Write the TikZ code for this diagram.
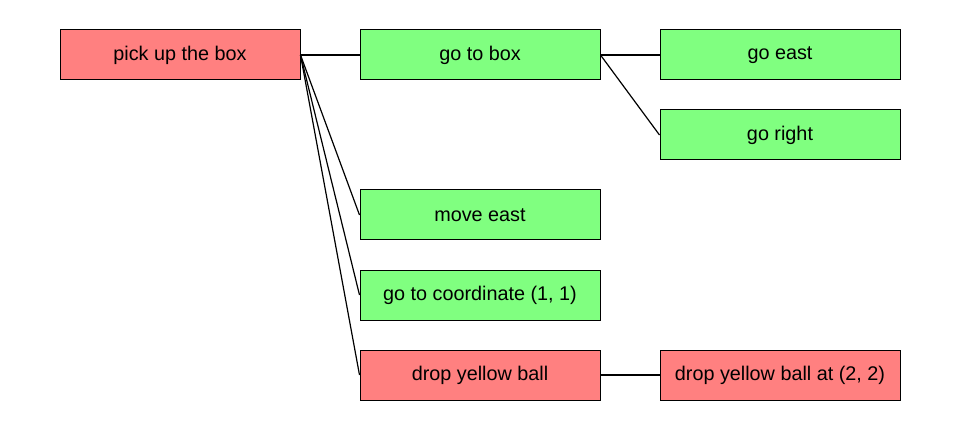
\documentclass[tikz,border=0pt]{standalone}
\usepackage{fontspec}
\setmainfont{Liberation Sans}
\definecolor{boxred}{HTML}{FF8080}
\definecolor{boxgreen}{HTML}{80FF80}
\begin{document}
\begin{tikzpicture}[x=1pt,y=-1pt,
  task/.style={draw=black,line width=1pt,minimum width=240pt,minimum height=50pt,inner sep=0pt,font=\fontsize{19.8}{24}\selectfont},
  redbox/.style={task,fill=boxred},
  greenbox/.style={task,fill=boxgreen},
  link/.style={draw=black,line width=1.2pt}]
\useasboundingbox (0,0) rectangle (960,430);
\node[redbox] (pick) at (180,55) {pick up the box};
\node[greenbox] (goto) at (480,55) {go to box};
\node[greenbox] (east) at (780,55) {go east};
\node[greenbox] (right) at (780,135) {go right};
\node[greenbox] (move) at (480,215) {move east};
\node[greenbox] (coord) at (480,295) {go to coordinate (1, 1)};
\node[redbox] (drop) at (480,375) {drop yellow ball};
\node[redbox] (dropat) at (780,375) {drop yellow ball at (2, 2)};
\draw[link] (pick.east) -- (goto.west);
\draw[link] (pick.east) -- (move.west);
\draw[link] (pick.east) -- (coord.west);
\draw[link] (pick.east) -- (drop.west);
\draw[link] (goto.east) -- (east.west);
\draw[link] (goto.east) -- (right.west);
\draw[link] (drop.east) -- (dropat.west);
\end{tikzpicture}
\end{document}
